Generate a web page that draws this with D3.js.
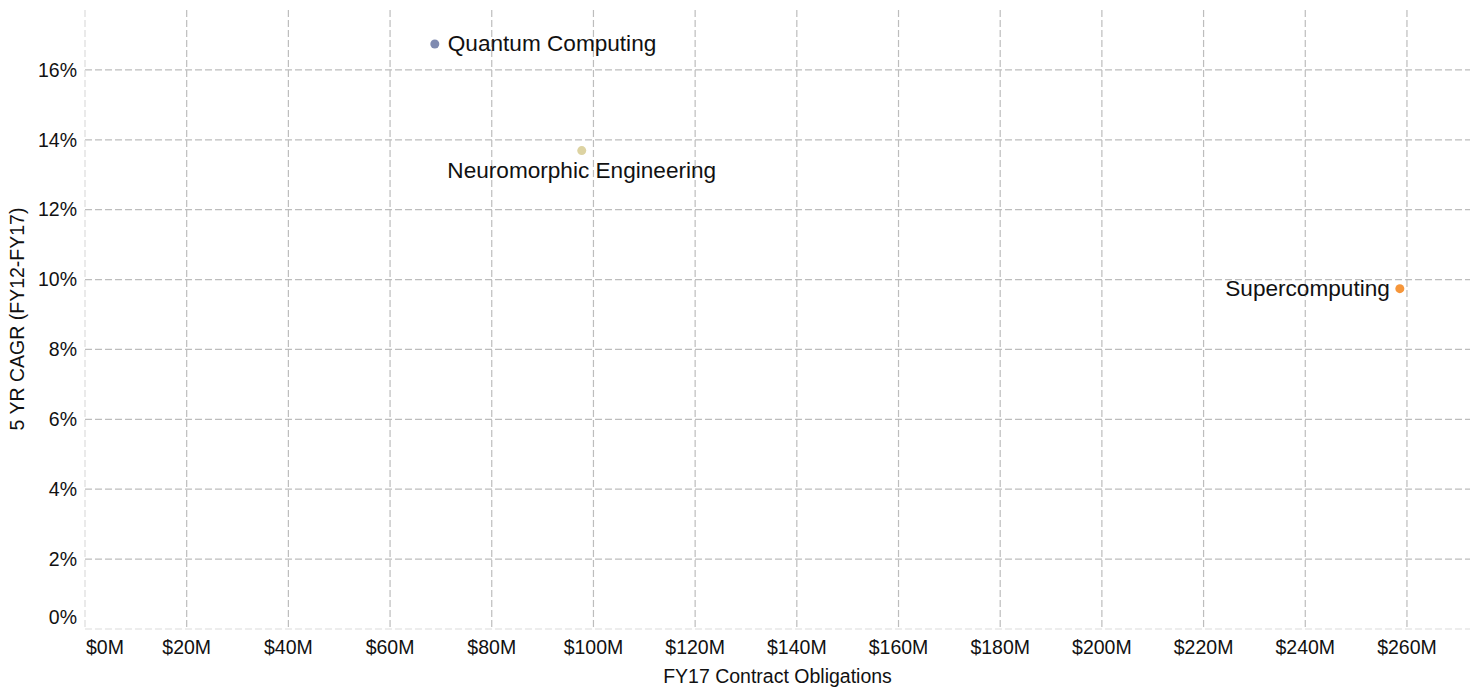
<!DOCTYPE html>
<html lang="en">
<head>
<meta charset="utf-8">
<script src="https://d3js.org/d3.v7.min.js"></script>
<style>
  body { margin: 0; background: #fff; }
  text { font-family: "Liberation Sans", Arial, sans-serif; fill: #111; }
</style>
</head>
<body>
<script>
// data
var names = ["Quantum Computing", "Neuromorphic Engineering", "Supercomputing"];
var obligations = [68.8, 97.7, 258.6];   // $M
var cagr = [0.1674, 0.1369, 0.0974];
var colors = ["#7f8ab0", "#ddd3a2", "#f6963a"];
var xTicks = [0, 20, 40, 60, 80, 100, 120, 140, 160, 180, 200, 220, 240, 260];
var yTicks = [0, 0.02, 0.04, 0.06, 0.08, 0.10, 0.12, 0.14, 0.16];

const W = 1476, H = 688;
const pLeft = 85, pRight = 1470, pTop = 10, pBottom = 629;

const svg = d3.select("body").append("svg")
  .attr("width", W).attr("height", H);

const x = d3.scaleLinear().domain([0, 272.4]).range([pLeft, pRight]);
const y = d3.scaleLinear().domain([0, 0.17714]).range([pBottom, pTop]);

// grid
svg.append("g").selectAll("line")
  .data(xTicks.slice(1))
  .enter().append("line")
  .attr("x1", d => x(d)).attr("x2", d => x(d))
  .attr("y1", pTop).attr("y2", pBottom)
  .attr("stroke", "#bdbdbd").attr("stroke-width", 1.2)
  .attr("stroke-dasharray", "7,3");

svg.append("g").selectAll("line")
  .data(yTicks.slice(1))
  .enter().append("line")
  .attr("x1", pLeft).attr("x2", pRight)
  .attr("y1", d => y(d)).attr("y2", d => y(d))
  .attr("stroke", "#bdbdbd").attr("stroke-width", 1.2)
  .attr("stroke-dasharray", "7,3");

// light axis lines
svg.append("line")
  .attr("x1", pLeft).attr("x2", pLeft).attr("y1", pTop).attr("y2", pBottom)
  .attr("stroke", "#dcdcdc").attr("stroke-width", 1.2).attr("stroke-dasharray", "7,3");
svg.append("line")
  .attr("x1", pLeft).attr("x2", pRight).attr("y1", pBottom).attr("y2", pBottom)
  .attr("stroke", "#dcdcdc").attr("stroke-width", 1.2).attr("stroke-dasharray", "7,3");

// x tick labels
svg.append("g").selectAll("text")
  .data(xTicks)
  .enter().append("text")
  .attr("x", d => d === 0 ? x(d) + 1 : x(d))
  .attr("y", 654)
  .attr("text-anchor", d => d === 0 ? "start" : "middle")
  .style("font-size", "19.5px")
  .text(d => "$" + d + "M");

// y tick labels
svg.append("g").selectAll("text")
  .data(yTicks)
  .enter().append("text")
  .attr("x", 77)
  .attr("y", d => d === 0 ? y(d) - 12 : y(d))
  .attr("dy", "0.35em")
  .attr("text-anchor", "end")
  .style("font-size", "19.5px")
  .text(d => d3.format(".0%")(d));

// axis titles
svg.append("text")
  .attr("x", (pLeft + pRight) / 2).attr("y", 683)
  .attr("text-anchor", "middle")
  .style("font-size", "19.5px")
  .text("FY17 Contract Obligations");

svg.append("text")
  .attr("transform", "translate(24,319) rotate(-90)")
  .attr("text-anchor", "middle")
  .style("font-size", "19.5px")
  .text("5 YR CAGR (FY12-FY17)");

// points
const pts = names.map((n, i) => ({ name: n, x: obligations[i], y: cagr[i], c: colors[i] }));

svg.append("g").selectAll("circle")
  .data(pts)
  .enter().append("circle")
  .attr("cx", d => x(d.x)).attr("cy", d => y(d.y))
  .attr("r", 4.5)
  .attr("fill", d => d.c);

// labels: right, below, left
var anchors = ["start", "middle", "end"];
var offX = [13, 0, -10];
var offY = [7, 27, 7];
svg.append("g").selectAll("text")
  .data(pts)
  .enter().append("text")
  .attr("x", (d, i) => x(d.x) + offX[i])
  .attr("y", (d, i) => y(d.y) + offY[i])
  .attr("text-anchor", (d, i) => anchors[i])
  .style("font-size", "22.6px")
  .text(d => d.name);
</script>
</body>
</html>
